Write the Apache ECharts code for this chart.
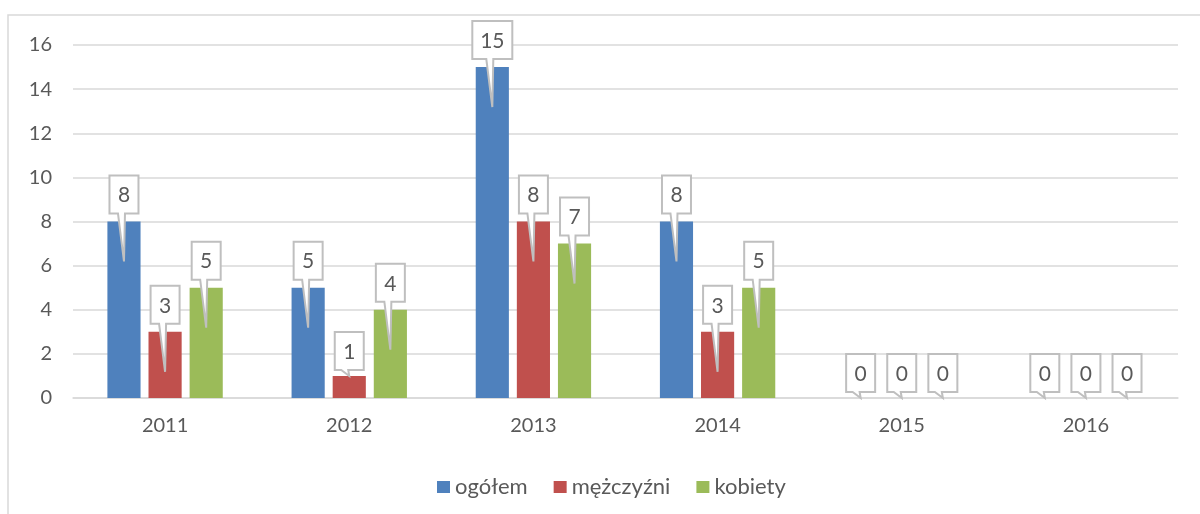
<!DOCTYPE html>
<html>
<head>
<meta charset="utf-8">
<script src="https://cdn.jsdelivr.net/npm/echarts@6/dist/echarts.min.js"></script>
<style>html,body{margin:0;padding:0;background:#fff}#c{width:1200px;height:514px}</style>
</head>
<body>
<div id="c"></div>
<script>
const years = ['2011', '2012', '2013', '2014', '2015', '2016'];
const ogolem = [8, 5, 15, 8, 0, 0];
const mezczyzni = [3, 1, 8, 3, 0, 0];
const kobiety = [5, 4, 7, 5, 0, 0];
const seriesNames = ['ogółem', 'mężczyźni', 'kobiety'];
const colors = ['#4f81bd', '#c0504d', '#9bbb59'];

const FONT = 'Lato, "Open Sans", sans-serif';
const TXT = '#595959';
const BAR_W = 0.18;   // fraction of band
const BAR_GAP = 0.24; // fraction of bar width

function callout(sIdx) {
  return function (params, api) {
    const cat = api.value(0), v = api.value(1);
    const base = api.coord([cat, 0]);
    const top = api.coord([cat, v]);
    const band = api.size([1, 0])[0];
    const bw = band * BAR_W, gap = bw * BAR_GAP;
    const cx = base[0] + (sIdx - 1) * (bw + gap);
    const y0 = base[1], yt = top[1];
    let tip, bb, tl, tr;
    if (yt + 40 <= y0 - 2) { tip = yt + 40; bb = yt - 8; tl = cx - 6; tr = cx + 1; }
    else { tip = yt; bb = yt - 6; tl = cx - 8; tr = cx - 1; }
    const txt = String(v);
    const w = 18 + 11 * txt.length, h = 38;
    const L = cx - w / 2, R = cx + w / 2, T = bb - h;
    return {
      type: 'group',
      children: [
        { type: 'polygon', shape: { points: [[L, T], [R, T], [R, bb], [tr, bb], [cx, tip], [tl, bb], [L, bb]] },
          style: { fill: '#fff', stroke: '#bfbfbf', lineWidth: 2, lineJoin: 'miter' } },
        { type: 'text', style: { text: txt, x: cx, y: bb - h / 2 + 1, align: 'center', verticalAlign: 'middle',
          font: '21px ' + FONT, fill: TXT } }
      ]
    };
  };
}

const dataSets = [ogolem, mezczyzni, kobiety];
const chart = echarts.init(document.getElementById('c'));
const series = [];
dataSets.forEach((d, i) => {
  series.push({ name: seriesNames[i], type: 'bar', data: d, barWidth: (BAR_W * 100) + '%', barGap: (BAR_GAP * 100) + '%',
    itemStyle: { color: colors[i] }, silent: true });
});
dataSets.forEach((d, i) => {
  series.push({ type: 'custom', renderItem: callout(i), data: d.map((v, k) => [k, v]), z: 10, clip: false, silent: true });
});

chart.setOption({
  animation: false,
  color: colors,
  graphic: [{ type: 'rect', shape: { x: 8, y: 15, width: 1400, height: 700 }, style: { fill: 'none', stroke: '#d9d9d9', lineWidth: 1.5 }, silent: true }],
  grid: { left: 73, right: 22, top: 45, bottom: 116 },
  legend: {
    data: seriesNames, left: 432, top: 471, icon: 'rect', itemWidth: 13, itemHeight: 12, itemGap: 26, itemTextGap: 6,
    textStyle: { fontFamily: FONT, fontSize: 22, color: TXT }
  },
  xAxis: {
    type: 'category', data: years,
    axisLine: { lineStyle: { color: '#d9d9d9', width: 1.5 } },
    axisTick: { show: false },
    axisLabel: { fontFamily: FONT, fontSize: 20, color: TXT, margin: 18 }
  },
  yAxis: {
    type: 'value', min: 0, max: 16, interval: 2,
    axisLine: { show: false }, axisTick: { show: false },
    splitLine: { lineStyle: { color: '#d9d9d9', width: 1.5 } },
    axisLabel: { fontFamily: FONT, fontSize: 20, color: TXT, margin: 21 }
  },
  series: series
});
</script>
</body>
</html>
